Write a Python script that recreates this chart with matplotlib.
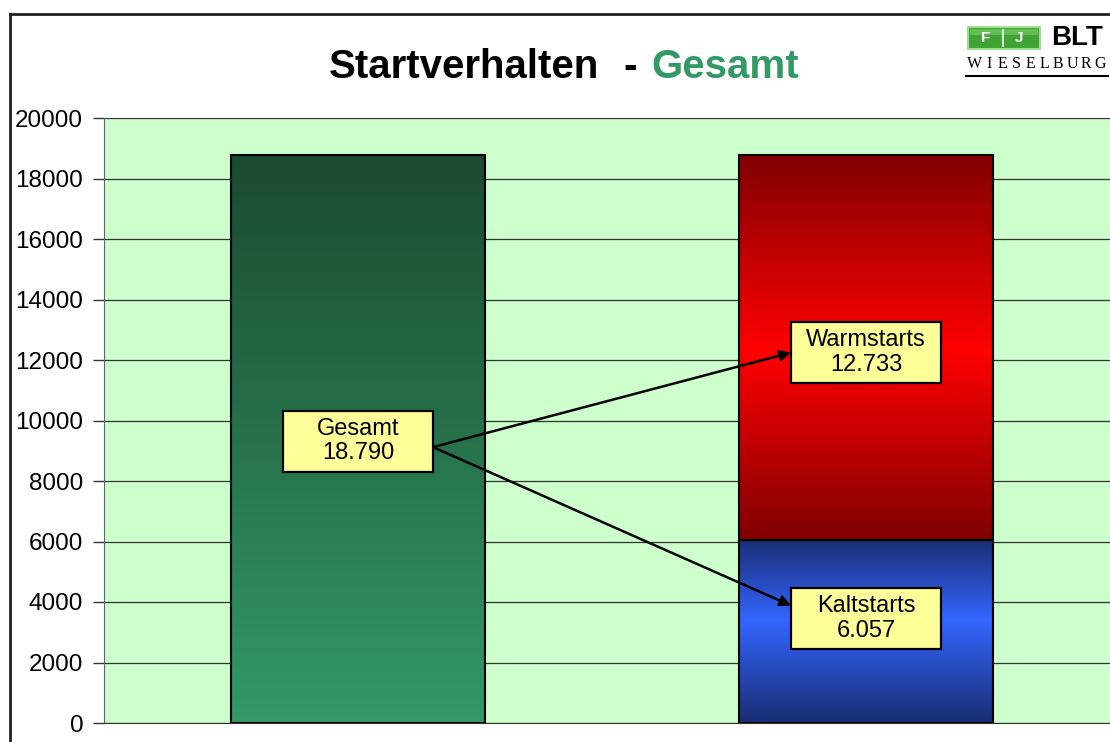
import numpy as np
import matplotlib
matplotlib.use('Agg')
import matplotlib.pyplot as plt
from matplotlib.lines import Line2D
from matplotlib.patches import Rectangle

# ---- data ----
categories = ['Gesamt', 'Aufteilung']
gesamt_values = [18790]
kalt_values = [6057]
warm_values = [12733]
label_gesamt = 'Gesamt'
label_warm = 'Warmstarts'
label_kalt = 'Kaltstarts'
y_ticks = [0, 2000, 4000, 6000, 8000, 10000, 12000, 14000, 16000, 18000, 20000]
title_main = 'Startverhalten'
title_sep = '-'
title_accent = 'Gesamt'

plt.rcParams['font.family'] = ['Liberation Sans', 'DejaVu Sans']


def de(v):
    return f"{v:,}".replace(',', '.')


def gradient_fill(ax, patch, stops):
    """stops: list of (fraction_from_bottom, (r,g,b))"""
    x0, y0 = patch.get_x(), patch.get_y()
    w, h = patch.get_width(), patch.get_height()
    n = 256
    f = np.linspace(0, 1, n)
    fr = [s[0] for s in stops]
    img = np.zeros((n, 1, 3))
    for c in range(3):
        img[:, 0, c] = np.interp(f, fr, [s[1][c] / 255 for s in stops])
    im = ax.imshow(img, extent=(x0, x0 + w, y0, y0 + h), origin='lower',
                   aspect='auto', zorder=2, interpolation='bilinear')
    im.set_clip_path(patch)


W, H = 1110, 742
fig = plt.figure(figsize=(W / 100, H / 100), dpi=100)
fig.patch.set_facecolor('white')
ax = fig.add_axes([104 / W, 1 - 723 / H, 1016 / W, (723 - 118) / H])
ax.set_facecolor('#ccffcc')

x = np.arange(len(categories))
bw = 0.5
b_total = ax.bar(x[0], gesamt_values[0], width=bw, facecolor='none',
                 edgecolor='black', linewidth=1.5, zorder=3)
b_kalt = ax.bar(x[1], kalt_values[0], width=bw, facecolor='none',
                edgecolor='black', linewidth=1.5, zorder=3)
b_warm = ax.bar(x[1], warm_values[0], bottom=kalt_values[0], width=bw,
                facecolor='none', edgecolor='black', linewidth=1.5, zorder=3)

gradient_fill(ax, b_total.patches[0], [(0, (51, 153, 102)), (1, (26, 74, 48))])
gradient_fill(ax, b_kalt.patches[0], [(0, (25, 45, 115)), (0.56, (51, 102, 255)), (1, (25, 45, 115))])
gradient_fill(ax, b_warm.patches[0], [(0, (128, 0, 0)), (0.49, (255, 0, 0)), (1, (128, 0, 0))])

ax.set_xlim(-0.5, 1.5)
ax.set_ylim(0, 20000)
ax.set_yticks(y_ticks)
ax.set_yticklabels([str(t) for t in y_ticks], fontsize=17.5)
ax.set_xticks([])
ax.yaxis.grid(True, color='#333333', linewidth=0.9, zorder=1)
ax.set_axisbelow(True)
ax.tick_params(axis='y', length=8, width=1, direction='out', pad=7, color='#333333')
for s in ['top', 'right']:
    ax.spines[s].set_visible(False)
ax.spines['left'].set_color('#666666')
ax.spines['bottom'].set_color('#333333')

# label boxes (fixed size, in data units derived from the axes scale)
box_w = 150 / 508
box_h = 61 / 605 * 20000


def label_box(xc, yc, text):
    ax.add_patch(Rectangle((xc - box_w / 2, yc - box_h / 2), box_w, box_h,
                           facecolor='#ffff99', edgecolor='black', linewidth=1.6, zorder=6))
    ax.text(xc, yc, text, ha='center', va='center', fontsize=17, zorder=7, linespacing=1.13)


yg = gesamt_values[0] * 0.496
yw = kalt_values[0] + warm_values[0] * 0.486
yk = kalt_values[0] * 0.570
label_box(x[0], yg, f"{label_gesamt}\n{de(gesamt_values[0])}")
label_box(x[1], yw, f"{label_warm}\n{de(warm_values[0])}")
label_box(x[1], yk, f"{label_kalt}\n{de(kalt_values[0])}")

arrow = dict(arrowstyle='-|>', color='black', lw=1.8, mutation_scale=16, shrinkA=0, shrinkB=0)
src = (x[0] + box_w / 2, yg - 200)
ax.annotate('', xy=(x[1] - box_w / 2, yw), xytext=src, arrowprops=arrow, zorder=5)
ax.annotate('', xy=(x[1] - box_w / 2, yk + 430), xytext=src, arrowprops=arrow, zorder=5)

# title (two colours, words placed to match reference spacing)
ty = 1 - 78 / H
fig.text(329 / W, ty, title_main, fontsize=29, fontweight='bold', color='black',
         ha='left', va='baseline')
fig.text(630 / W, ty, title_sep, fontsize=29, fontweight='bold', color='black',
         ha='center', va='baseline')
fig.text(725 / W, ty, title_accent, fontsize=29, fontweight='bold', color='#339966',
         ha='center', va='baseline')

# border lines of the chart area
fig.add_artist(Line2D([10 / W, 1], [1 - 14 / H, 1 - 14 / H], transform=fig.transFigure,
                      color='#222222', lw=2))
fig.add_artist(Line2D([10 / W, 10 / W], [0, 1 - 14 / H], transform=fig.transFigure,
                      color='#222222', lw=2))

# logo
fig.add_artist(Rectangle((968 / W, 1 - 49 / H), 72 / W, 22 / H, transform=fig.transFigure,
                         facecolor='#3fa335', edgecolor='#9ee08e', lw=1.5))
fig.add_artist(Rectangle((970 / W, 1 - 35 / H), 68 / W, 6 / H, transform=fig.transFigure,
                         facecolor='#7ccf6a', edgecolor='none', alpha=0.6))
fig.text(986 / W, 1 - 38 / H, 'F', fontsize=11, fontweight='bold', color='white',
         ha='center', va='center')
fig.add_artist(Line2D([1003 / W, 1003 / W], [1 - 46 / H, 1 - 30 / H], transform=fig.transFigure,
                      color='white', lw=1.2))
fig.text(1019 / W, 1 - 38 / H, 'J', fontsize=11, fontweight='bold', color='white',
         ha='center', va='center')
fig.text(1077 / W, 1 - 38 / H, 'BLT', fontsize=20, fontweight='black', color='black',
         ha='center', va='center')
logo_word = 'WIESELBURG'
lx = np.linspace(975, 1100, len(logo_word))
for ch, px in zip(logo_word, lx):
    fig.text(px / W, 1 - 64 / H, ch, fontsize=11.5, family='Liberation Serif',
             color='black', ha='center', va='center')
fig.add_artist(Line2D([966 / W, 1108 / W], [1 - 76 / H, 1 - 76 / H], transform=fig.transFigure,
                      color='black', lw=1.5))

fig.savefig('out.png', dpi=100)
